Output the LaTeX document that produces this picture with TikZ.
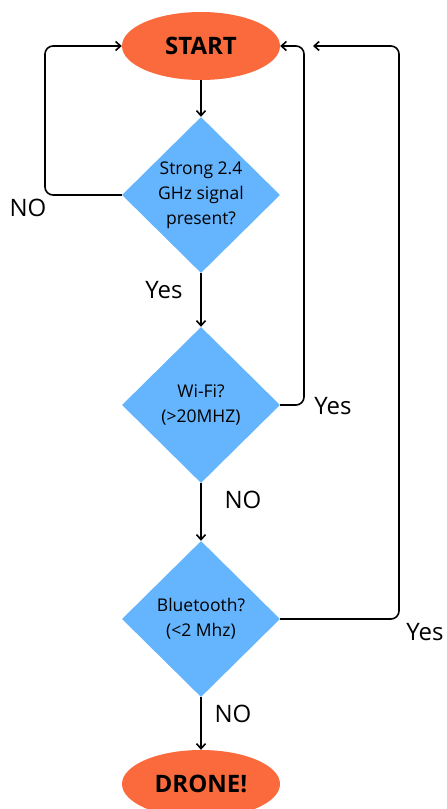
\documentclass[tikz,border=0pt]{standalone}
\usepackage{fontspec}
\setmainfont{Open Sans}
\usetikzlibrary{shapes.geometric,arrows.meta}
\definecolor{orng}{HTML}{FA6A3C}
\definecolor{skyb}{HTML}{65B4FE}
\begin{document}
\begin{tikzpicture}[x=1pt,y=-1pt,
  term/.style={ellipse,fill=orng,draw=none,minimum width=158pt,minimum height=68pt,inner sep=0pt,font=\fontsize{24}{28}\selectfont\bfseries},
  dec/.style={diamond,fill=skyb,draw=none,minimum width=158pt,minimum height=156pt,inner sep=0pt,align=center,font=\fontsize{17.5}{25}\selectfont},
  lbl/.style={font=\fontsize{24}{28}\selectfont,inner sep=0pt},
  conn/.style={line width=1.6pt,-{Straight Barb[length=5pt,width=9pt,line width=1.6pt]},rounded corners=8pt}]
\useasboundingbox (0,0) rectangle (447,809);
\node[term] (start) at (201,46) {START};
\node[dec] (d1) at (201,195) {Strong 2.4\\GHz signal\\present?};
\node[dec] (d2) at (201,405) {Wi-Fi?\\(>20MHZ)};
\node[dec] (d3) at (201,619) {Bluetooth?\\(<2 Mhz)};
\node[term] (drone) at (201,784) {DRONE!};
\coordinate (in3) at (313,46);
\draw[conn] (start) -- (d1);
\draw[conn] (d1) -- (d2);
\draw[conn] (d2) -- (d3);
\draw[conn] (d3) -- (drone);
\draw[conn] (d1.west) -| (45,120) |- (start.west);
\draw[conn] (d2.east) -| (304,120) |- (start.east);
\draw[conn] (d3.east) -| (399,120) |- (in3);
\node[lbl] (no1) at (28,208) {NO};
\node[lbl] (yes1) at (164,290) {Yes};
\node[lbl] (yes2) at (333,406) {Yes};
\node[lbl] (no2) at (243,500) {NO};
\node[lbl] (yes3) at (425,632) {Yes};
\node[lbl] (no3) at (233,714) {NO};
\end{tikzpicture}
\end{document}
